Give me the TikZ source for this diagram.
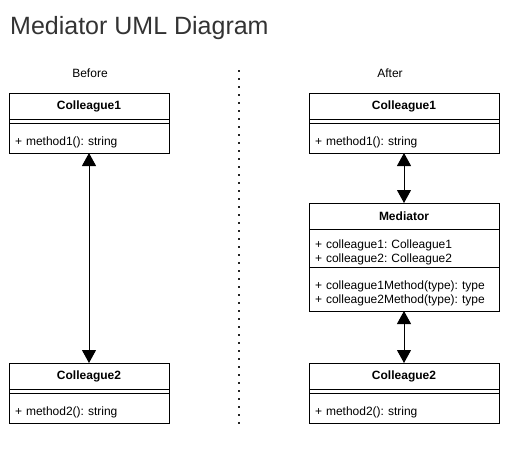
\documentclass[tikz,border=0pt]{standalone}
\usepackage{fontspec}
\setmainfont{Liberation Sans}
\frenchspacing
\usetikzlibrary{arrows.meta, positioning}

\begin{document}
\begin{tikzpicture}[
    x=1pt, y=-1pt,
    % Node styles
    heading/.style={
        font=\fontsize{25}{30}\selectfont, text=black!80,
        inner sep=0pt,
    },
    side/.style={
        font=\fontsize{12}{14}\selectfont, inner sep=0pt,
    },
    classhead/.style={
        rectangle, draw, line width=1pt,
        minimum width=#1, minimum height=26pt,
        inner sep=0pt, outer sep=0pt,
        font=\fontsize{12}{14}\selectfont\bfseries,
    },
    classpart/.style 2 args={
        rectangle, draw, line width=1pt,
        text width=#1, minimum height=#2,
        inner xsep=6pt, inner ysep=0pt, outer sep=0pt,
        align=left, font=\fontsize{12}{14}\selectfont,
    },
    lowered/.style={
        execute at begin node={\rule{0pt}{17pt}},
    },
    assoc/.style={
        draw=black, line width=1pt,
        {Triangle[length=13pt, width=14pt]}-{Triangle[length=13pt, width=14pt]},
    },
    divider/.style={
        draw=black!85, line width=2pt, dash pattern=on 2pt off 6pt,
    },
]
\useasboundingbox (0,0) rectangle (527,452);

% === Title ===
\node[heading, anchor=base west] (title) at (10,35) {Mediator UML Diagram};

% === Column captions ===
\node[side] (before) at (90,73) {Before};
\node[side] (after)  at (390,73) {After};

% === Divider ===
\coordinate (divtop) at (239,70);
\coordinate (divbot) at (239,424);
\draw[divider] (divtop) -- (divbot);

% === Before: two colleagues ===
\node[classhead=160pt] (c1a-head) at (89,106) {Colleague1};
\node[classpart={148pt}{4pt}]  (c1a-attr) [below=0pt of c1a-head] {};
\node[classpart={148pt}{30pt}, lowered] (c1a-ops) [below=0pt of c1a-attr] {+ method1(): string};

\node[classhead=160pt] (c2a-head) at (89,376) {Colleague2};
\node[classpart={148pt}{4pt}]  (c2a-attr) [below=0pt of c2a-head] {};
\node[classpart={148pt}{30pt}, lowered] (c2a-ops) [below=0pt of c2a-attr] {+ method2(): string};

% === After: colleagues through the mediator ===
\node[classhead=190pt] (c1b-head) at (404,106) {Colleague1};
\node[classpart={178pt}{4pt}]  (c1b-attr) [below=0pt of c1b-head] {};
\node[classpart={178pt}{30pt}, lowered] (c1b-ops) [below=0pt of c1b-attr] {+ method1(): string};

\node[classhead=190pt] (med-head) at (404,216) {Mediator};
\node[classpart={178pt}{38pt}, lowered] (med-attr) [below=0pt of med-head]
    {+ colleague1: Colleague1\\+ colleague2: Colleague2};
\node[classpart={178pt}{44pt}, lowered] (med-ops)  [below=0pt of med-attr]
    {+ colleague1Method(type): type\\+ colleague2Method(type): type};

\node[classhead=190pt] (c2b-head) at (404,376) {Colleague2};
\node[classpart={178pt}{4pt}]  (c2b-attr) [below=0pt of c2b-head] {};
\node[classpart={178pt}{30pt}, lowered] (c2b-ops) [below=0pt of c2b-attr] {+ method2(): string};

% === Associations ===
\draw[assoc] (c1a-ops.south) -- (c2a-head.north);
\draw[assoc] (c1b-ops.south) -- (med-head.north);
\draw[assoc] (med-ops.south) -- (c2b-head.north);

\end{tikzpicture}
\end{document}
